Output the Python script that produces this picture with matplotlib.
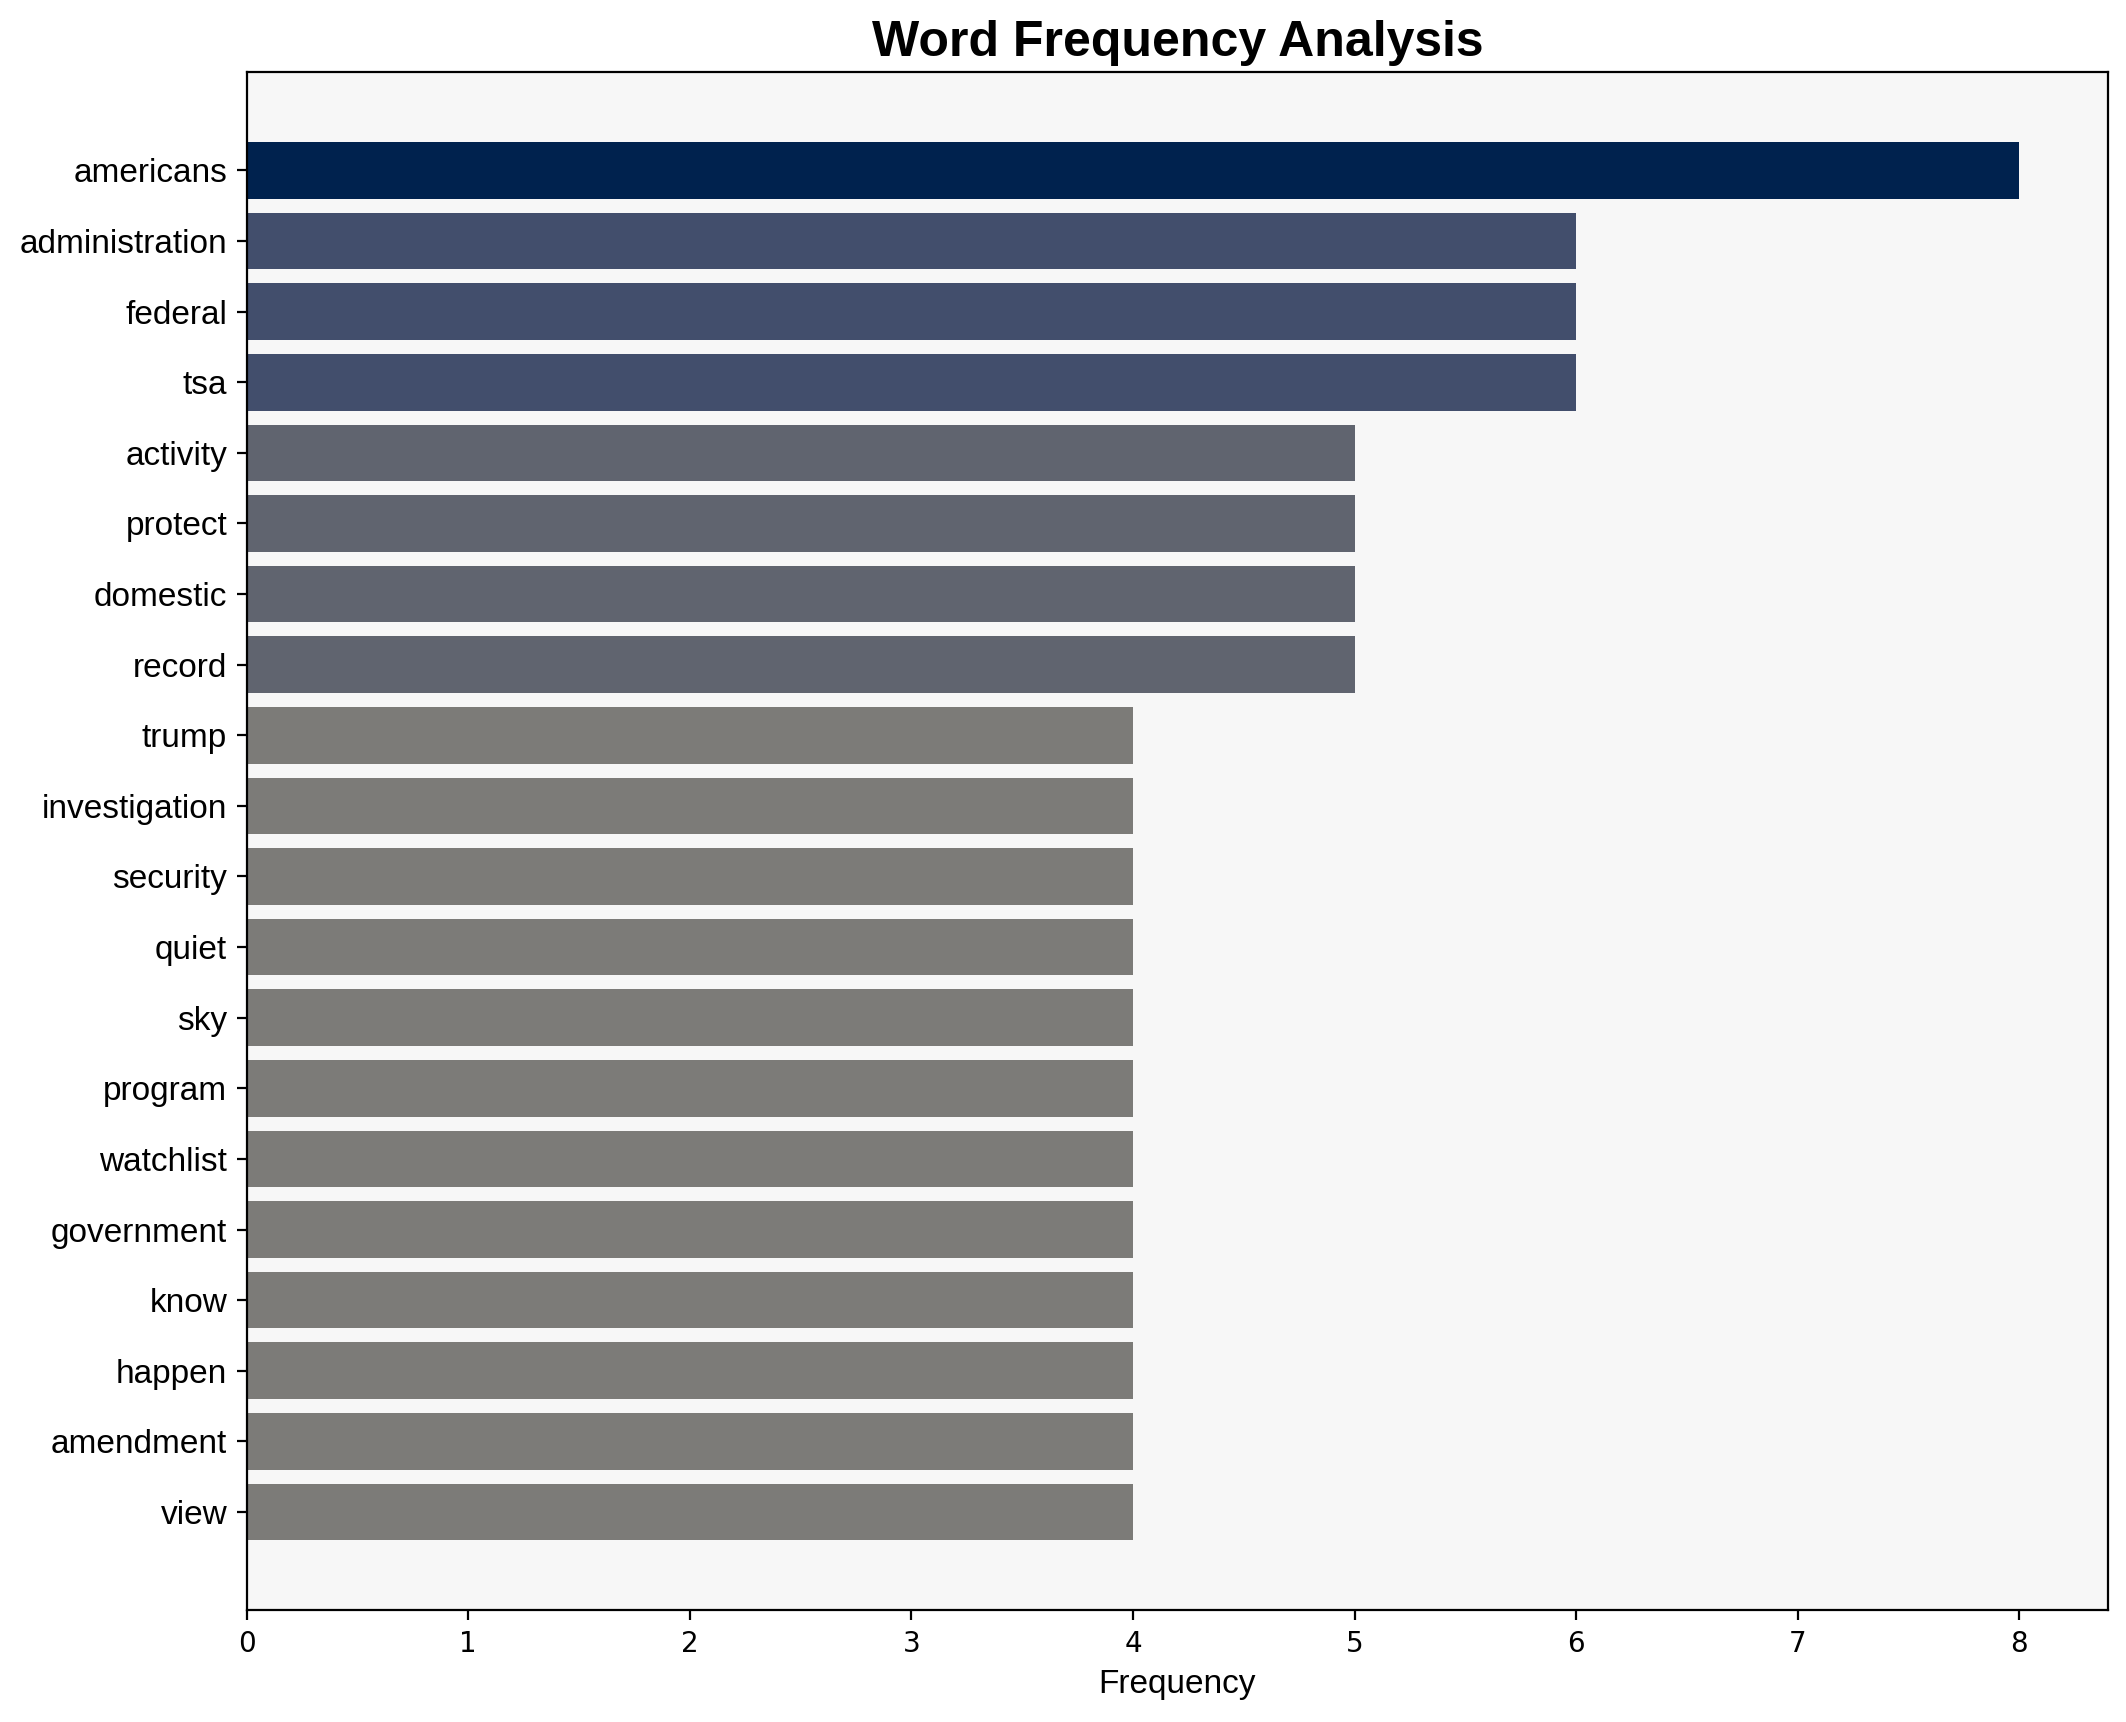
import numpy as np
import matplotlib
matplotlib.use('Agg')
import matplotlib.pyplot as plt

# DATOS
words = ['americans', 'administration', 'federal', 'tsa', 'activity', 'protect',
         'domestic', 'record', 'trump', 'investigation', 'security', 'quiet',
         'sky', 'program', 'watchlist', 'government', 'know', 'happen',
         'amendment', 'view']
counts = [8, 6, 6, 6, 5, 5, 5, 5, 4, 4, 4, 4, 4, 4, 4, 4, 4, 4, 4, 4]

arial = ['Liberation Sans', 'Arial', 'DejaVu Sans']

fig = plt.figure(figsize=(10.63, 8.61), dpi=200)
ax = fig.add_axes([0.116, 0.065, 0.8755, 0.893])
ax.set_facecolor('#f7f7f7')

counts_arr = np.array(counts, dtype=float)
colors = plt.cm.cividis_r(counts_arr / counts_arr.max())
y = np.arange(len(words))
ax.barh(y, counts, color=colors, height=0.8)
ax.set_yticks(y)
ax.set_yticklabels(words, fontsize=12, family=arial)
ax.invert_yaxis()

ax.tick_params(axis='x', labelsize=10)
ax.set_xlabel('Frequency', fontsize=12, family=arial)
ax.set_title('Word Frequency Analysis', fontsize=18, fontweight='bold', family=arial)

fig.savefig('out.png', dpi=200)
